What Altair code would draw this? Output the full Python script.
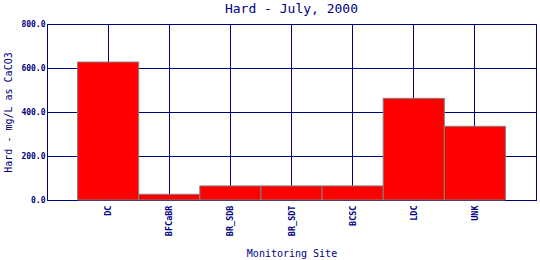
import altair as alt
import pandas as pd

sites = ["DC", "BFCaBR", "BR_SDB", "BR_SDT", "BCSC", "LDC", "UNK"]
hardness = [627, 26, 64, 64, 64, 462, 335]
y_ticks = [0, 200, 400, 600, 800]

df = pd.DataFrame({"site": sites, "hard": hardness})

NAVY = "#000080"
FONT = "DejaVu Sans Mono"

chart = alt.Chart(df).mark_bar(
    color="#ff0000", stroke="#808080", strokeWidth=1
).encode(
    x=alt.X("site:N", sort=sites,
            scale=alt.Scale(paddingInner=0, paddingOuter=0.5),
            axis=alt.Axis(title="Monitoring Site", labelAngle=-90, ticks=False,
                          labelPadding=5, grid=True, gridColor=NAVY, gridOpacity=1,
                          gridWidth=1, domainColor=NAVY, labelColor=NAVY,
                          labelFont=FONT, labelFontSize=8.5, labelFontWeight="bold",
                          titleFont=FONT,
                          titleFontSize=10, titleFontWeight="normal",
                          titleColor=NAVY, titlePadding=13, bandPosition=0.5)),
    y=alt.Y("hard:Q", scale=alt.Scale(domain=[0, 800], nice=False),
            axis=alt.Axis(title="Hard - mg/L as CaCO3", values=y_ticks, format=".1f",
                          ticks=False, labelPadding=2, grid=True, gridColor=NAVY,
                          gridOpacity=1, gridWidth=1, domainColor=NAVY,
                          labelColor=NAVY, labelFont=FONT, labelFontSize=8,
                          labelFontWeight="bold", titleFont=FONT, titleFontSize=10,
                          titleFontWeight="normal", titleColor=NAVY, titlePadding=7)),
).properties(
    width=489, height=176,
    title=alt.TitleParams("Hard - July, 2000", font=FONT, fontSize=13,
                          fontWeight="normal", color=NAVY, offset=4),
    autosize=alt.AutoSizeParams(type="none"),
    padding={"left": 47, "top": 24, "right": 4, "bottom": 60},
).configure_view(
    stroke=NAVY, strokeWidth=1
)

chart.save("out.html", embed_options={"renderer": "svg", "actions": False})
